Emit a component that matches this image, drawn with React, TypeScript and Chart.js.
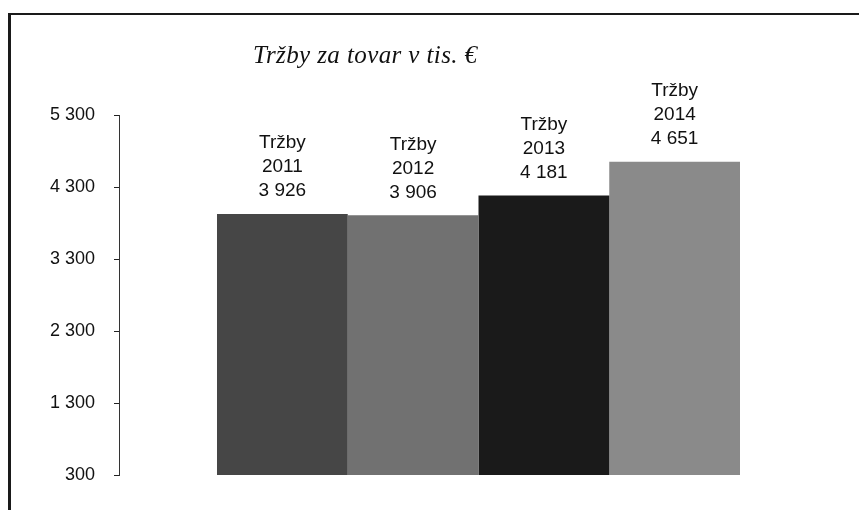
import React, { useEffect, useRef } from "react";
import { Chart, registerables } from "chart.js";

Chart.register(...registerables);

const categories = [""];
const seriesNames = ["Tržby 2011", "Tržby 2012", "Tržby 2013", "Tržby 2014"];
const seriesValues = [3926, 3906, 4181, 4651];
const seriesColors = ["#464646", "#717171", "#1a1a1a", "#8a8a8a"];
const yMin = 300;
const yMax = 5300;
const yStep = 1000;
const titleText = "Tržby za tovar v tis. €";

const fmt = (n: number) => String(n).replace(/\B(?=(\d{3})+(?!\d))/g, " ");

const labelPlugin = {
  id: "barLabels",
  afterDatasetsDraw(chart: any) {
    const ctx = chart.ctx;
    ctx.save();
    ctx.font = '19px "Liberation Sans", Arial, sans-serif';
    ctx.fillStyle = "#111";
    ctx.textAlign = "center";
    ctx.textBaseline = "middle";
    chart.data.datasets.forEach((ds: any, i: number) => {
      const meta = chart.getDatasetMeta(i);
      const bar = meta.data[0];
      if (!bar) return;
      const lines = [...String(ds.label).split(" "), fmt(ds.data[0])];
      const n = lines.length;
      lines.forEach((t, k) => {
        ctx.fillText(t, bar.x, bar.y - 23 - (n - 1 - k) * 24);
      });
    });
    ctx.restore();
  },
};

export default function App() {
  const ref = useRef<HTMLCanvasElement | null>(null);
  useEffect(() => {
    if (!ref.current) return;
    const chart = new Chart(ref.current, {
      type: "bar",
      data: {
        labels: categories,
        datasets: seriesNames.map((name, i) => ({
          label: name,
          data: [seriesValues[i]],
          backgroundColor: seriesColors[i],
          borderWidth: 0,
        })),
      },
      options: {
        responsive: false,
        animation: false,
        layout: { padding: { left: 0, top: 115, right: 21, bottom: 35 } },
        datasets: { bar: { categoryPercentage: 0.7274, barPercentage: 1 } },
        plugins: {
          legend: { display: false },
          tooltip: { enabled: false },
          title: { display: false },
        },
        scales: {
          x: { display: false },
          y: {
            min: yMin,
            max: yMax,
            afterFit: (s: any) => {
              s.width = 119;
            },
            ticks: {
              stepSize: yStep,
              padding: 19,
              color: "#111",
              font: { family: '"Liberation Sans", Arial, sans-serif', size: 18 },
              callback: (v: any) => fmt(Number(v)),
            },
            grid: {
              drawOnChartArea: false,
              drawTicks: true,
              tickLength: 5,
              color: "#222",
            },
            border: { display: true, color: "#333", width: 1 },
          },
        },
      },
      plugins: [labelPlugin],
    });
    return () => chart.destroy();
  }, []);

  return (
    <div style={{ position: "fixed", left: 0, top: 0, width: 859, height: 510, background: "#fff", overflow: "hidden" }}>
      <div
        style={{
          position: "absolute",
          left: 8,
          top: 13,
          right: -5,
          bottom: -5,
          borderTop: "2px solid #1a1a1a",
          borderLeft: "3px solid #1a1a1a",
        }}
      />
      <canvas ref={ref} width={859} height={510} style={{ position: "absolute", left: 0, top: 0 }} />
      <div
        style={{
          position: "absolute",
          left: 253,
          top: 42,
          fontFamily: '"Liberation Serif", "Times New Roman", serif',
          fontStyle: "italic",
          fontSize: 25,
          letterSpacing: 0.4,
          lineHeight: "26px",
          color: "#111",
          whiteSpace: "nowrap",
        }}
      >
        {titleText}
      </div>
    </div>
  );
}
